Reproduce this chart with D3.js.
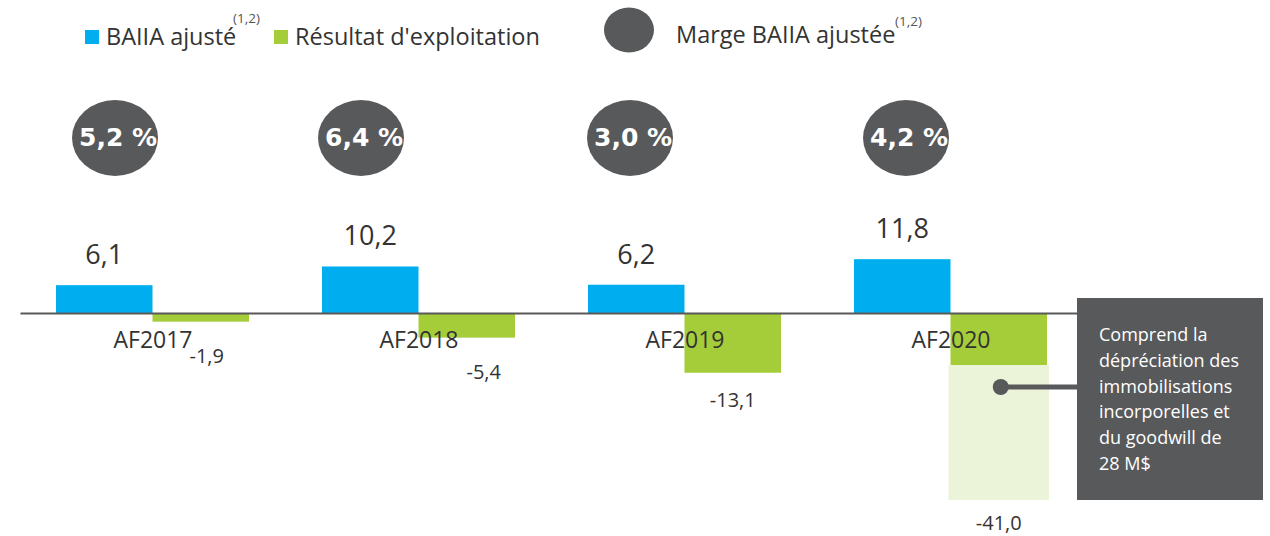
<!DOCTYPE html>
<html>
<head>
<meta charset="utf-8">
<script src="https://cdn.jsdelivr.net/npm/d3@7"></script>
<style>
  body { margin: 0; background: #fff; }
  svg { display: block; font-family: "Open Sans", sans-serif; }
</style>
</head>
<body>
<svg id="chart" width="1270" height="536"></svg>
<script>
// data
const categories = ["AF2017", "AF2018", "AF2019", "AF2020"];
const baiiaAjuste = [6.1, 10.2, 6.2, 11.8];
const resultatExploitation = [-1.9, -5.4, -13.1, -41.0];
// 2020 operating result without the 28 M$ write-down (solid part of the bar)
const resultatAvantDepreciation = [null, null, null, -11.4];
const margeBaiia = ["5,2 %", "6,4 %", "3,0 %", "4,2 %"];
const noteLines = ["Comprend la", "dépréciation des", "immobilisations",
  "incorporelles et", "du goodwill de", "28 M$"];

// french decimal comma, plain hyphen for the sign
const fmt = (v) => d3.format(".1f")(v).replace(".", ",").replace("\u2212", "-");

const BLUE = "#00aeef", GREEN = "#a5cd39", LIGHT_GREEN = "#ebf4d8",
      DARK = "#58595b", TEXT = "#333";

const svg = d3.select("#chart");

// scales
const x0 = d3.scaleBand().domain(categories).range([20, 1084]);
const x1 = d3.scaleBand().domain(["baiia", "res"]).range([36, 229]);
const y = d3.scaleLinear().domain([-41, 0]).range([500, 313]);

// hand-tuned label nudges (the source places them by hand)
const negLabelDx = [6, 17, 0, 0];
const negLabelDy = [41, 41, 34, 30];
const bubbleDx = [-38, -58, -55, -45];

// light "write-down" block for 2020, behind the bars
categories.forEach((c, i) => {
  const solid = resultatAvantDepreciation[i];
  if (solid == null) return;
  svg.append("rect")
    .attr("x", x0(c) + x1("res") - 2)
    .attr("y", y(solid))
    .attr("width", x1.bandwidth() + 4)
    .attr("height", y(resultatExploitation[i]) - y(solid))
    .attr("fill", LIGHT_GREEN);
});

const groups = svg.append("g").selectAll("g")
  .data(categories)
  .join("g")
  .attr("transform", (d) => `translate(${x0(d)},0)`);

groups.append("rect")
  .attr("x", x1("baiia"))
  .attr("y", (d, i) => y(baiiaAjuste[i]))
  .attr("width", x1.bandwidth())
  .attr("height", (d, i) => y(0) - y(baiiaAjuste[i]))
  .attr("fill", BLUE);

groups.append("rect")
  .attr("x", x1("res"))
  .attr("y", y(0))
  .attr("width", x1.bandwidth())
  .attr("height", (d, i) => {
    const v = resultatAvantDepreciation[i] ?? resultatExploitation[i];
    return y(v) - y(0);
  })
  .attr("fill", GREEN);

// value labels
groups.append("text")
  .attr("x", x1("baiia") + x1.bandwidth() / 2)
  .attr("y", (d, i) => y(baiiaAjuste[i]) - 21)
  .attr("text-anchor", "middle")
  .attr("font-size", 27)
  .attr("fill", TEXT)
  .text((d, i) => fmt(baiiaAjuste[i]));

groups.append("text")
  .attr("x", (d, i) => x1("res") + x1.bandwidth() / 2 + negLabelDx[i])
  .attr("y", (d, i) => y(resultatExploitation[i]) + negLabelDy[i])
  .attr("text-anchor", "middle")
  .attr("font-size", 20)
  .attr("fill", TEXT)
  .text((d, i) => fmt(resultatExploitation[i]));

// zero line + category labels
const axis = svg.append("g")
  .attr("transform", `translate(0,${y(0)})`)
  .call(d3.axisBottom(x0).tickSize(0).tickPadding(19));
axis.select(".domain").attr("stroke", "#595959").attr("stroke-width", 2);
axis.selectAll("text")
  .attr("font-family", "Open Sans, sans-serif")
  .attr("font-size", 23)
  .attr("fill", TEXT);

// margin bubbles
const bubbles = svg.append("g").selectAll("g")
  .data(categories)
  .join("g")
  .attr("transform", (d, i) => `translate(${x0(d) + x0.bandwidth() / 2 + bubbleDx[i]},138)`);
bubbles.append("ellipse").attr("rx", 43).attr("ry", 38).attr("fill", DARK);
bubbles.append("text")
  .attr("x", 3).attr("y", 8)
  .attr("text-anchor", "middle")
  .attr("font-family", "DejaVu Sans, sans-serif")
  .attr("font-weight", "bold")
  .attr("font-size", 25)
  .attr("fill", "#fff")
  .text((d, i) => margeBaiia[i]);

// annotation box for the 2020 write-down
const dotX = x0("AF2020") + x1("res") + x1.bandwidth() / 2 + 2;
svg.append("line")
  .attr("x1", dotX).attr("x2", 1078)
  .attr("y1", 387).attr("y2", 387)
  .attr("stroke", DARK).attr("stroke-width", 5);
svg.append("circle")
  .attr("cx", dotX).attr("cy", 387).attr("r", 8).attr("fill", DARK);
svg.append("rect")
  .attr("x", 1077).attr("y", 298)
  .attr("width", 186).attr("height", 202)
  .attr("fill", DARK);
svg.append("text")
  .attr("x", 1099).attr("y", 341)
  .attr("font-size", 18)
  .attr("fill", "#fff")
  .selectAll("tspan")
  .data(noteLines)
  .join("tspan")
  .attr("x", 1099)
  .attr("dy", (d, i) => (i === 0 ? 0 : 25.8))
  .text((d) => d);

// legend
const legend = svg.append("g").attr("fill", TEXT);
legend.append("rect").attr("x", 85).attr("y", 30).attr("width", 14).attr("height", 14).attr("fill", BLUE);
legend.append("text").attr("x", 106).attr("y", 45).attr("font-size", 23.5).text("BAIIA ajusté");
legend.append("text").attr("x", 233).attr("y", 23).attr("font-size", 13.5).attr("fill", "#555").text("(1,2)");
legend.append("rect").attr("x", 274).attr("y", 30).attr("width", 14).attr("height", 14).attr("fill", GREEN);
legend.append("text").attr("x", 295).attr("y", 45).attr("font-size", 23.5).text("Résultat d'exploitation");
legend.append("ellipse").attr("cx", 629).attr("cy", 30).attr("rx", 25).attr("ry", 22.5).attr("fill", DARK);
legend.append("text").attr("x", 676).attr("y", 43).attr("font-size", 23.5).text("Marge BAIIA ajustée");
legend.append("text").attr("x", 895).attr("y", 26).attr("font-size", 13.5).attr("fill", "#555").text("(1,2)");
</script>
</body>
</html>
